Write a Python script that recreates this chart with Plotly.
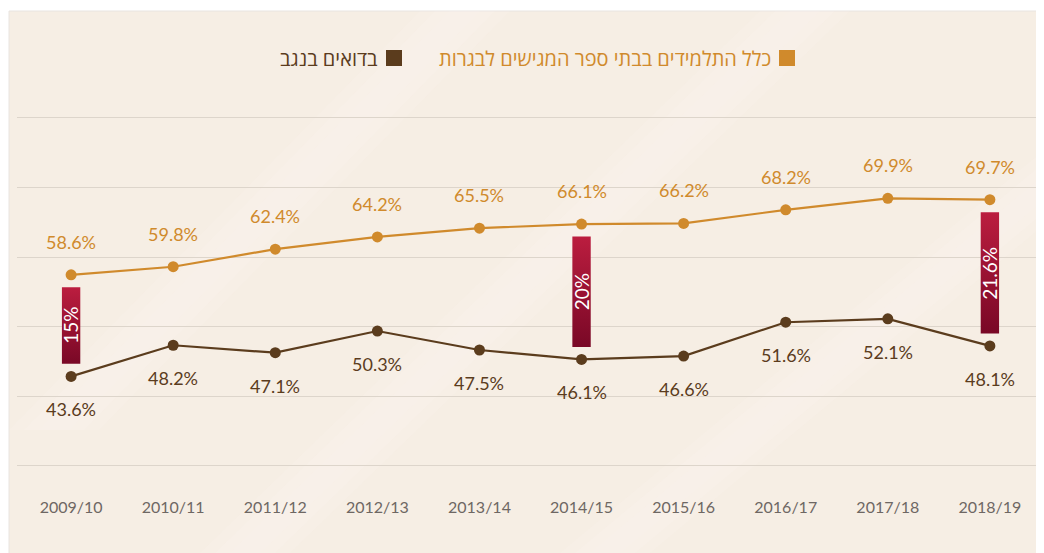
import plotly.graph_objects as go

YEARS = ["2009/10", "2010/11", "2011/12", "2012/13", "2013/14",
         "2014/15", "2015/16", "2016/17", "2017/18", "2018/19"]
ALL_STUDENTS = [58.6, 59.8, 62.4, 64.2, 65.5, 66.1, 66.2, 68.2, 69.9, 69.7]
BEDOUIN_NEGEV = [43.6, 48.2, 47.1, 50.3, 47.5, 46.1, 46.6, 51.6, 52.1, 48.1]
GAP_YEARS = ["2009/10", "2014/15", "2018/19"]
GAP_LABELS = ["15%", "20%", "21.6%"]
GRID_LEVELS = [30.4, 40.6, 50.9, 61.2, 71.5, 81.8]
SERIES_NAMES = ["כלל התלמידים בבתי ספר המגישים לבגרות", "בדואים בנגב"]

ORANGE = "#d08a2c"
BROWN = "#5b3c1d"
OFF = 8  # page body margin
W, H = 1044 - OFF, 553 - OFF
ML, MR, MT, MB = 17 - OFF, 0, 100 - OFF, 57
PW, PH = W - ML - MR, H - MT - MB
Y_RANGE = [25.93, 84.43]
X_RANGE = [-0.53, 9.53]


def px_x(p):
    # p: screen pixel
    return (p - OFF - ML) / PW


def px_y(p):
    return (H - MB - (p - OFF)) / PH


xs = list(range(len(YEARS)))
fig = go.Figure()

# gap bars (gradient rectangles) between the two series
BAR_HALF = 0.09
PAD = 1.85
for yr, lab in zip(GAP_YEARS, GAP_LABELS):
    i = YEARS.index(yr)
    top = ALL_STUDENTS[i] - PAD
    bot = BEDOUIN_NEGEV[i] + PAD
    fig.add_trace(go.Scatter(
        x=[i - BAR_HALF, i + BAR_HALF, i + BAR_HALF, i - BAR_HALF, i - BAR_HALF],
        y=[bot, bot, top, top, bot],
        mode="lines", line=dict(width=0), fill="toself",
        fillgradient=dict(type="vertical",
                          colorscale=[[0, "#790826"], [1, "#bb1d3f"]]),
        hoverinfo="skip", showlegend=False))
    fig.add_annotation(x=i, y=(top + bot) / 2, text=lab, textangle=-90,
                       showarrow=False,
                       font=dict(family="Lato", size=19, color="white"))

fig.add_trace(go.Scatter(x=xs, y=ALL_STUDENTS, mode="lines+markers",
                         line=dict(color=ORANGE, width=2.2),
                         marker=dict(color=ORANGE, size=11),
                         name=SERIES_NAMES[0], showlegend=False))
fig.add_trace(go.Scatter(x=xs, y=BEDOUIN_NEGEV, mode="lines+markers",
                         line=dict(color=BROWN, width=2.2),
                         marker=dict(color=BROWN, size=11),
                         name=SERIES_NAMES[1], showlegend=False))

for i, v in enumerate(ALL_STUDENTS):
    fig.add_annotation(x=i, y=v, text=f"{v:.1f}%", showarrow=False, yshift=33,
                       font=dict(family="Lato", size=18, color=ORANGE))
for i, v in enumerate(BEDOUIN_NEGEV):
    fig.add_annotation(x=i, y=v, text=f"{v:.1f}%", showarrow=False, yshift=-33,
                       font=dict(family="Lato", size=18, color=BROWN))

# background panel
fig.add_shape(type="rect", xref="paper", yref="paper", layer="below",
              x0=px_x(9), x1=px_x(1050), y0=px_y(560), y1=px_y(11),
              fillcolor="#f6eee4", line=dict(color="#e8e4e0", width=1))
# very faint, soft diagonal streaks of the sand texture
for (a, b, c, d) in [(9, 430, 420, 11), (200, 553, 760, 11), (560, 553, 1044, 150)]:
    for wdt in (30, 60, 90):
        off = (90 - wdt) / 2
        fig.add_shape(type="path", xref="paper", yref="paper", layer="below",
                      path=(f"M {px_x(a + off)} {px_y(b)} L {px_x(a + off + wdt)} {px_y(b)} "
                            f"L {px_x(c + off + wdt)} {px_y(d)} L {px_x(c + off)} {px_y(d)} Z"),
                      fillcolor="rgba(253,249,243,0.12)", line=dict(width=0))

# custom RTL legend
legend_items = [(SERIES_NAMES[0], ORANGE, 795), (SERIES_NAMES[1], BROWN, 402)]
for name, col, right in legend_items:
    fig.add_shape(type="rect", xref="paper", yref="paper",
                  x0=px_x(right - 16), x1=px_x(right), y0=px_y(66), y1=px_y(50),
                  fillcolor=col, line=dict(width=0))
    fig.add_annotation(xref="paper", yref="paper", x=px_x(right - 22), y=px_y(58),
                       xanchor="right", yanchor="middle", text=name, showarrow=False,
                       font=dict(family="Open Sans", size=20, color=col))

fig.update_xaxes(range=X_RANGE, tickvals=xs, ticktext=YEARS, showgrid=False,
                 zeroline=False, showline=False, ticks="",
                 tickfont=dict(family="Lato", size=16, color="#6e6763"))
fig.update_yaxes(range=Y_RANGE, tickvals=GRID_LEVELS, showticklabels=False,
                 showgrid=True, gridcolor="#ddd5cb", gridwidth=1,
                 zeroline=False, showline=False)
fig.update_layout(width=W, height=H, margin=dict(l=ML, r=MR, t=MT, b=MB),
                  paper_bgcolor="white", plot_bgcolor="rgba(0,0,0,0)",
                  showlegend=False, hovermode=False)

fig.write_html("out.html")
